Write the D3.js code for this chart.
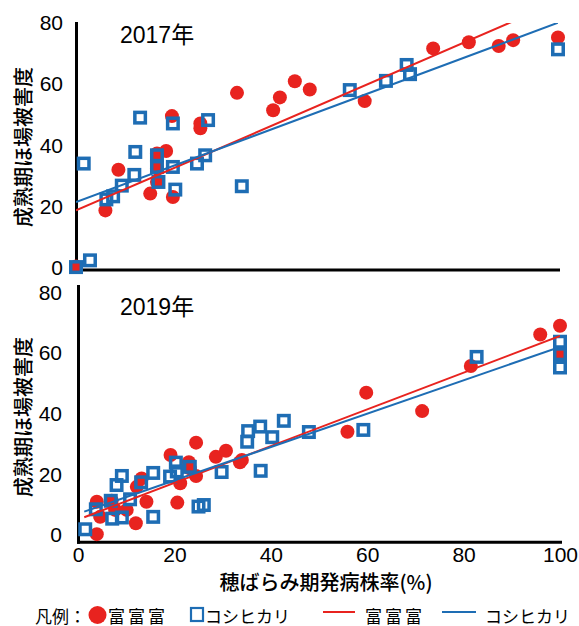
<!DOCTYPE html>
<html>
<head>
<meta charset="utf-8">
<script src="https://cdn.jsdelivr.net/npm/d3@7/dist/d3.min.js"></script>
<style>
  html, body { margin: 0; padding: 0; background: #fff; }
  svg { display: block; }
  .tick text { font-family: "Liberation Sans", Arial, sans-serif; font-size: 21px; fill: #000; }
  .jp { font-family: "Noto Sans CJK JP", sans-serif; fill: #000; }
</style>
</head>
<body>
<svg id="chart" width="579" height="626"></svg>
<script>
// 2017年: 穂ばらみ期発病株率 (x) と 成熟期ほ場被害度 (y)
const x2017Tomi = [0, 6.1, 8.8, 15.4, 16.8, 18.7, 19.9, 20.1, 25.8, 25.8, 33.4, 40.9, 42.3, 45.4, 48.5, 59.9, 74.1, 81.5, 87.7, 90.7, 100, 16.8, 16.8];
const y2017Tomi = [0.5, 18.8, 32.1, 24.3, 37.4, 38.2, 49.6, 23.2, 47.2, 45.6, 57.2, 51.5, 55.7, 61.0, 58.3, 54.5, 71.7, 73.7, 72.5, 74.4, 75.3, 32.5, 28.1];
const x2017Koshi = [0, 2.9, 1.6, 6.3, 7.7, 9.5, 12.1, 12.3, 13.3, 16.8, 16.8, 17.1, 20.1, 20.1, 20.6, 25.1, 26.8, 27.4, 34.4, 56.8, 64.3, 68.6, 69.3, 100];
const y2017Koshi = [0.3, 2.5, 34.1, 22.4, 23.4, 26.9, 30.4, 37.9, 49.1, 36.8, 33.0, 28.1, 47.2, 33.0, 25.6, 34.1, 36.8, 48.3, 26.7, 58.1, 61.1, 66.3, 63.3, 71.4];

// 2019年
const x2019Tomi = [3.9, 3.9, 4.6, 7.0, 7.7, 10.1, 12.0, 12.2, 13.2, 14.2, 19.2, 21.2, 20.6, 23.0, 24.5, 24.5, 23.2, 28.6, 30.7, 34.0, 33.6, 55.9, 59.8, 71.4, 81.5, 95.9, 100, 100];
const y2019Tomi = [0.3, 11.0, 6.0, 11.3, 8.3, 8.3, 3.9, 15.9, 18.7, 11.0, 26.4, 17.1, 10.7, 24.0, 30.5, 19.5, 22.0, 25.8, 27.8, 24.8, 24.0, 34.1, 47.0, 40.9, 55.8, 66.2, 69.1, 59.7];
const x2019Koshi = [1.5, 3.7, 6.8, 7.1, 9.1, 10.8, 8.0, 9.1, 13.1, 15.6, 15.6, 19.1, 20.3, 20.5, 23.2, 25.0, 26.1, 29.8, 35.1, 35.3, 37.8, 37.9, 40.3, 42.7, 47.9, 59.2, 82.7, 100, 100, 100];
const y2019Koshi = [1.9, 8.5, 11.3, 5.4, 5.8, 11.8, 16.5, 19.5, 17.4, 20.5, 6.0, 19.3, 23.9, 21.0, 22.5, 9.4, 9.9, 20.8, 30.8, 34.3, 35.8, 21.2, 32.3, 37.7, 34.0, 34.7, 58.8, 63.8, 59.7, 55.3];

// 近似直線 [切片, 傾き] と描画範囲 (x)
const fit2017Tomi = [18.8, 0.681];
const fit2017Koshi = [21.5, 0.586];
const fit2019Tomi = [5.1, 0.606];
const fit2019Koshi = [7.0, 0.551];
const fitSpan2017 = [0, 100];
const fitSpan2019 = [1.3, 100];

const yTicks = [0, 20, 40, 60, 80];
const xTicks = [0, 20, 40, 60, 80, 100];
const seriesNames = ["富富富", "コシヒカリ"];
const yTitle = "成熟期ほ場被害度";
const xTitle = "穂ばらみ期発病株率(%)";

const RED = "#e8231f";
const BLUE = "#1e6db4";

const svg = d3.select("#chart");

function panel(opts) {
  const { id, title, xRange, yDomain, yRange, xAxisY, xLabels, tomi, koshi, fitTomi, fitKoshi, span, titleY, yTitleY, pad } = opts;
  const x = d3.scaleLinear().domain([0, 100]).range(xRange);
  const y = d3.scaleLinear().domain(yDomain).range(yRange);
  const g = svg.append("g");

  // clip region for the trend lines (plot area)
  svg.append("clipPath").attr("id", "clip" + id)
    .append("rect")
    .attr("x", xRange[0]).attr("y", y(80))
    .attr("width", xRange[1] - xRange[0]).attr("height", y(0) - y(80) + 4);

  // axes
  const ya = g.append("g").attr("transform", `translate(${xRange[0]},0)`)
    .call(d3.axisLeft(y).tickValues(yTicks).tickSize(0).tickPadding(pad));
  ya.select(".domain").attr("stroke", "#000").attr("stroke-width", 3).attr("stroke-linecap", "square");

  const xa = g.append("g").attr("transform", `translate(0,${xAxisY})`)
    .call(d3.axisBottom(x).tickValues(xLabels ? xTicks : []).tickSize(0).tickPadding(5));
  xa.select(".domain").attr("stroke", "#000").attr("stroke-width", 3).attr("stroke-linecap", "square");

  // 富富富 (circles)
  g.append("g").selectAll("circle")
    .data(d3.zip(tomi[0], tomi[1]))
    .join("circle")
    .attr("cx", d => x(d[0])).attr("cy", d => y(d[1]))
    .attr("r", 7).attr("fill", RED);

  // コシヒカリ (open squares)
  const s = 10.5;
  g.append("g").selectAll("rect")
    .data(d3.zip(koshi[0], koshi[1]))
    .join("rect")
    .attr("x", d => x(d[0]) - s / 2).attr("y", d => y(d[1]) - s / 2)
    .attr("width", s).attr("height", s)
    .attr("fill", "none").attr("stroke", BLUE).attr("stroke-width", 3.5);

  // trend lines
  const lg = g.append("g").attr("clip-path", `url(#clip${id})`);
  [[fitTomi, RED], [fitKoshi, BLUE]].forEach(([f, c]) => {
    lg.append("line")
      .attr("x1", x(span[0])).attr("y1", y(f[0] + f[1] * span[0]))
      .attr("x2", x(span[1])).attr("y2", y(f[0] + f[1] * span[1]))
      .attr("stroke", c).attr("stroke-width", 2);
  });

  // year title
  g.append("text").attr("class", "jp")
    .attr("x", 120).attr("y", titleY).attr("dominant-baseline", "central")
    .style("font-family", "'Liberation Sans', 'Noto Sans CJK JP', sans-serif")
    .style("font-size", "23px").text(title);

  // y axis title
  g.append("text").attr("class", "jp")
    .attr("transform", `translate(22,${yTitleY}) rotate(-90)`)
    .attr("text-anchor", "middle").attr("dominant-baseline", "central")
    .style("font-size", "20px").style("font-weight", "500").text(yTitle);
}

panel({
  id: "a", title: "2017年",
  xRange: [76, 558], yDomain: [0, 80], yRange: [268, 23], xAxisY: 269.5,
  xLabels: false,
  tomi: [x2017Tomi, y2017Tomi], koshi: [x2017Koshi, y2017Koshi],
  fitTomi: fit2017Tomi, fitKoshi: fit2017Koshi, span: fitSpan2017,
  titleY: 35, yTitleY: 147, pad: 13
});

panel({
  id: "b", title: "2019年",
  xRange: [78, 560], yDomain: [-2.2, 82.2], yRange: [541.7, 286], xAxisY: 541.7,
  xLabels: true,
  tomi: [x2019Tomi, y2019Tomi], koshi: [x2019Koshi, y2019Koshi],
  fitTomi: fit2019Tomi, fitKoshi: fit2019Koshi, span: fitSpan2019,
  titleY: 307, yTitleY: 417, pad: 16
});

// x axis title
svg.append("text").attr("class", "jp")
  .attr("x", 326).attr("y", 581).attr("text-anchor", "middle").attr("dominant-baseline", "central")
  .style("font-size", "20px").style("font-weight", "500").text(xTitle);

// legend
const lgY = 615;
const leg = svg.append("g").style("font-size", "17px");
leg.append("text").attr("class", "jp").attr("x", 35).attr("y", lgY).attr("dominant-baseline", "central").text("凡例：");
leg.append("circle").attr("cx", 97.5).attr("cy", lgY).attr("r", 9).attr("fill", RED);
leg.append("text").attr("class", "jp").attr("x", 108).attr("y", lgY).attr("dominant-baseline", "central")
  .style("letter-spacing", "3px").text(seriesNames[0]);
leg.append("rect").attr("x", 191).attr("y", lgY - 7).attr("width", 12).attr("height", 13)
  .attr("fill", "none").attr("stroke", BLUE).attr("stroke-width", 2.2);
leg.append("text").attr("class", "jp").attr("x", 205).attr("y", lgY).attr("dominant-baseline", "central").text(seriesNames[1]);
leg.append("line").attr("x1", 323).attr("x2", 355).attr("y1", lgY - 3).attr("y2", lgY - 3).attr("stroke", RED).attr("stroke-width", 2);
leg.append("text").attr("class", "jp").attr("x", 365).attr("y", lgY).attr("dominant-baseline", "central")
  .style("letter-spacing", "3px").text(seriesNames[0]);
leg.append("line").attr("x1", 442).attr("x2", 476).attr("y1", lgY - 3).attr("y2", lgY - 3).attr("stroke", BLUE).attr("stroke-width", 2);
leg.append("text").attr("class", "jp").attr("x", 485).attr("y", lgY).attr("dominant-baseline", "central").text(seriesNames[1]);
</script>
</body>
</html>
